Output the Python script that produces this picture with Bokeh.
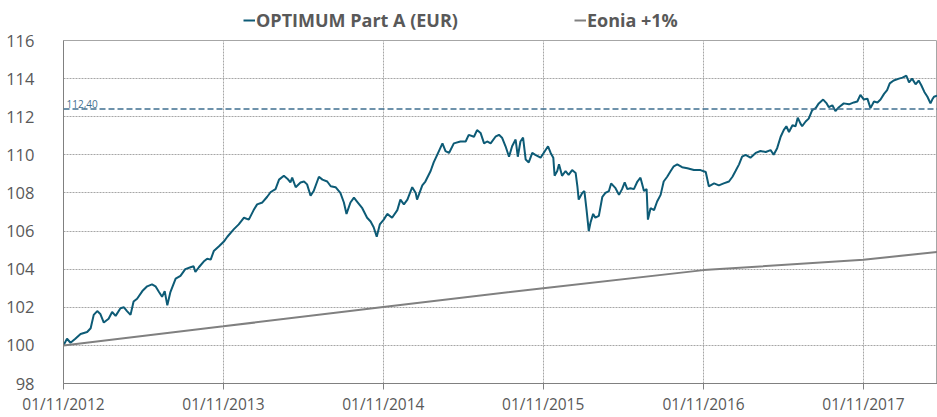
import pandas as pd
from bokeh.plotting import figure
from bokeh.layouts import column
from bokeh.models import (Range1d, FixedTicker, Span, Label, Legend, LegendItem, ColumnDataSource)
from bokeh.embed import file_html
from bokeh.resources import INLINE

start_date = "2012-11-01"
end_date = "2018-04-19"

# OPTIMUM Part A (EUR): days since start, value
opt_days = [0, 8, 16, 27, 39, 54, 62, 69, 77, 84, 92, 103, 111, 119, 130, 138, 145, 153, 160, 168,
            180, 191, 202, 210, 218, 225, 231, 237, 244, 256, 267, 278, 290, 297, 301, 309, 320, 328,
            336, 343, 355, 366, 374, 389, 400, 412, 423, 434, 442, 454, 465, 473, 484, 492, 503, 511,
            518, 522, 530, 541, 549, 556, 564, 571, 583, 591, 602, 610, 621, 632, 640, 646, 655, 663,
            670, 682, 693, 701, 708, 715, 722, 731, 739, 750, 762, 769, 777, 785, 796, 804, 807, 819,
            826, 838, 845, 853, 865, 872, 880, 891, 906, 918, 925, 937, 944, 952, 960, 967, 975, 986,
            994, 1001, 1009, 1017, 1024, 1032, 1037, 1043, 1049, 1055, 1062, 1070, 1077, 1089, 1096,
            1106, 1112, 1118, 1121, 1127, 1131, 1138, 1146, 1153, 1161, 1169, 1173, 1176, 1184, 1189,
            1194, 1199, 1203, 1209, 1214, 1222, 1230, 1237, 1245, 1250, 1260, 1268, 1275, 1281, 1287,
            1294, 1302, 1310, 1317, 1325, 1331, 1334, 1340, 1348, 1355, 1363, 1370, 1378, 1386, 1393,
            1401, 1412, 1424, 1439, 1454, 1466, 1473, 1485, 1496, 1507, 1519, 1527, 1534, 1542, 1549,
            1557, 1568, 1580, 1591, 1603, 1614, 1621, 1629, 1637, 1644, 1650, 1656, 1664, 1671, 1676,
            1682, 1686, 1694, 1701, 1709, 1717, 1724, 1734, 1742, 1747, 1755, 1762, 1770, 1781, 1793,
            1804, 1812, 1819, 1827, 1835, 1842, 1850, 1858, 1865, 1873, 1880, 1886, 1895, 1907, 1915,
            1924, 1930, 1937, 1945, 1952, 1958, 1965, 1972, 1979, 1983, 1987, 1994]
opt_vals = [100.0, 100.35, 100.14, 100.35, 100.6, 100.7, 100.9, 101.6, 101.8, 101.65, 101.2, 101.4,
            101.75, 101.55, 101.95, 102.0, 101.8, 101.6, 102.3, 102.45, 102.85, 103.1, 103.2, 103.1,
            102.8, 102.55, 102.85, 102.1, 102.8, 103.5, 103.65, 104.0, 104.1, 104.15, 103.85, 104.1,
            104.4, 104.55, 104.5, 104.95, 105.2, 105.45, 105.7, 106.1, 106.35, 106.7, 106.6, 107.1,
            107.4, 107.5, 107.8, 108.05, 108.2, 108.7, 108.9, 108.75, 108.55, 108.8, 108.3, 108.55,
            108.6, 108.45, 107.85, 108.1, 108.85, 108.7, 108.6, 108.35, 108.3, 108.0, 107.5, 106.9,
            107.5, 107.75, 107.55, 107.2, 106.7, 106.5, 106.2, 105.7, 106.35, 106.6, 106.9, 106.7,
            107.1, 107.65, 107.4, 107.65, 108.3, 108.0, 107.65, 108.4, 108.6, 109.15, 109.6, 110.0,
            110.6, 110.2, 110.1, 110.6, 110.7, 110.7, 111.05, 110.95, 111.3, 111.15, 110.6, 110.7,
            110.6, 110.95, 111.05, 110.9, 110.45, 109.9, 110.45, 110.8, 109.9, 110.7, 110.9, 109.75,
            109.6, 110.1, 110.0, 109.85, 110.1, 110.45, 110.1, 109.85, 108.9, 109.15, 109.5, 108.9,
            109.15, 108.95, 109.2, 109.05, 108.35, 107.65, 108.0, 108.1, 107.1, 106.0, 106.45, 106.9,
            106.7, 106.8, 107.8, 108.0, 108.1, 108.5, 108.25, 107.9, 108.2, 108.55, 108.2, 108.25,
            108.2, 108.6, 108.8, 108.1, 108.2, 106.6, 107.2, 107.1, 107.55, 107.9, 108.6, 108.85,
            109.15, 109.4, 109.5, 109.35, 109.3, 109.2, 109.2, 109.1, 108.35, 108.5, 108.4, 108.5,
            108.6, 108.85, 109.15, 109.5, 109.9, 110.0, 109.85, 110.1, 110.2, 110.15, 110.25, 110.0,
            110.35, 110.95, 111.3, 111.5, 111.2, 111.55, 111.5, 111.95, 111.65, 111.5, 111.75, 111.9,
            112.35, 112.45, 112.7, 112.9, 112.7, 112.5, 112.6, 112.3, 112.5, 112.7, 112.65, 112.75,
            112.8, 113.15, 112.9, 112.95, 112.45, 112.8, 112.75, 112.9, 113.2, 113.4, 113.75, 113.9,
            114.0, 114.05, 114.15, 113.8, 114.0, 113.7, 113.9, 113.65, 113.3, 113.05, 112.7, 112.9,
            113.05, 113.1]

# Eonia +1%
eonia_days = [0, 365, 730, 1095, 1461, 1826, 1994]
eonia_vals = [100.0, 101.0, 102.02, 103.0, 103.95, 104.5, 104.9]

ref_level = 112.4
ref_label = "112,40"

tick_dates = ["2012-11-01", "2013-11-01", "2014-11-01", "2015-11-01", "2016-11-01", "2017-11-01"]
tick_labels = ["01/11/2012", "01/11/2013", "01/11/2014", "01/11/2015", "01/11/2016", "01/11/2017"]
y_ticks = [98, 100, 102, 104, 106, 108, 110, 112, 114, 116]

series_names = ["OPTIMUM Part A (EUR)", "Eonia +1%"]
series_colors = ["#0D5B76", "#808080"]

MS_PER_DAY = 86400000
t0_ms = pd.Timestamp(start_date).value // 10**6
t1_ms = pd.Timestamp(end_date).value // 10**6
opt_src = ColumnDataSource(dict(x=[t0_ms + d * MS_PER_DAY for d in opt_days], y=opt_vals))
eon_src = ColumnDataSource(dict(x=[t0_ms + d * MS_PER_DAY for d in eonia_days], y=eonia_vals))
sources = [opt_src, eon_src]

TEXT = "#595959"
FONT = "Open Sans"

# ---- legend strip on top (series drawn out of its view; only the legend shows) ----
top = figure(width=937, height=32, output_backend="svg", toolbar_location=None,
             x_range=Range1d(0, 1), y_range=Range1d(0, 1),
             x_axis_location=None, y_axis_location=None,
             min_border_left=0, min_border_right=0, min_border_top=0, min_border_bottom=0)
top.outline_line_color = None
top.xgrid.visible = False
top.ygrid.visible = False
leg_r = [top.line("x", "y", source=s, line_color=c, line_width=2)
         for s, c in zip(sources, series_colors)]
legend = Legend(items=[LegendItem(label=n, renderers=[r]) for n, r in zip(series_names, leg_r)],
                orientation="horizontal", location=(180, 0),
                label_text_font=FONT, label_text_font_style="bold",
                label_text_font_size="18px", label_text_color=TEXT,
                glyph_width=12, glyph_height=18, label_standoff=1, spacing=116,
                padding=2, margin=0, border_line_color=None, background_fill_alpha=0)
top.add_layout(legend)

# ---- main chart ----
p = figure(width=937, height=385, output_backend="svg", toolbar_location=None,
           x_range=Range1d(t0_ms, t1_ms),
           y_range=Range1d(98, 116),
           min_border_left=63, min_border_right=0, min_border_top=8, min_border_bottom=32)
p.outline_line_color = "#A6A6A6"

p.line("x", "y", source=opt_src, line_color=series_colors[0], line_width=2)
p.line("x", "y", source=eon_src, line_color=series_colors[1], line_width=2)

p.add_layout(Span(location=ref_level, dimension="width", line_color="#3F6F90",
                  line_dash="6 3", line_width=1.5))
p.add_layout(Label(x=3, x_units="screen", y=ref_level, y_offset=1, text=ref_label,
                   text_font=FONT, text_font_size="10px", text_color="#3F6F90",
                   text_baseline="bottom", text_align="left"))

tick_ms = [pd.Timestamp(d).value // 10**6 for d in tick_dates]
p.xaxis.ticker = FixedTicker(ticks=tick_ms)
p.xaxis.major_label_overrides = {int(t): lab for t, lab in zip(tick_ms, tick_labels)}
p.yaxis.ticker = FixedTicker(ticks=y_ticks)

for ax in (p.xaxis, p.yaxis):
    ax.axis_line_color = "#808080"
    ax.major_label_text_color = TEXT
    ax.major_label_text_font = FONT
    ax.minor_tick_line_color = None
p.xaxis.major_label_text_font_size = "15.5px"
p.yaxis.major_label_text_font_size = "16.5px"
p.xaxis.major_tick_in = 0
p.xaxis.major_tick_out = 6
p.xaxis.major_tick_line_color = "#808080"
p.xaxis.major_label_standoff = 3
p.yaxis.major_tick_line_color = None
p.yaxis.major_label_standoff = 23

for g in (p.xgrid, p.ygrid):
    g.grid_line_color = "#A6A6A6"
    g.grid_line_dash = "2 1"
    g.grid_line_width = 1

open("out.html", "w").write(file_html(column(top, p, spacing=0), INLINE))
